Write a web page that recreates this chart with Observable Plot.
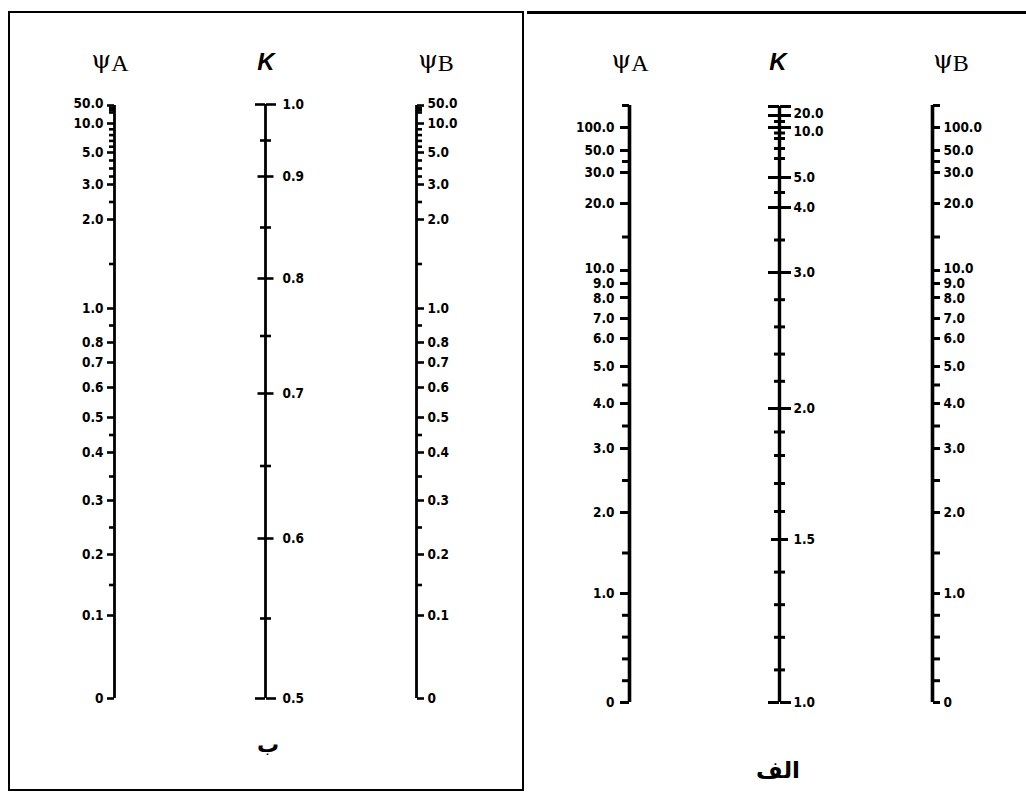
<!DOCTYPE html>
<html><head><meta charset="utf-8">
<script src="https://cdn.jsdelivr.net/npm/d3@7"></script>
<script src="https://cdn.jsdelivr.net/npm/@observablehq/plot@0.6"></script>
<style>
body{margin:0;background:#fff;}
#root{position:relative;width:1026px;height:802px;overflow:hidden;background:#fff;}
.ax{position:absolute;top:0;}
.hdr{position:absolute;line-height:1;white-space:nowrap;color:#000;}
.psi{font-family:"Liberation Serif","DejaVu Serif",serif;font-size:24px;transform:translateX(-50%);}
.psi b{font-weight:normal;font-family:"DejaVu Serif",serif;font-size:25px;}
.psi span{position:relative;top:3px;}
.kk{font-family:"Liberation Sans",sans-serif;font-weight:bold;font-style:italic;font-size:24px;transform:translateX(-50%);}
.cap{font-family:"DejaVu Sans",sans-serif;font-weight:bold;transform:translateX(-50%);direction:rtl;}
.box{position:absolute;box-sizing:border-box;}
</style></head>
<body><div id="root"></div>
<script>
// ---------- data ----------
const INF = 1e9; // stands for the "∞" end of the sway-frame scales

// Braced frame (ب)
const bracedPsiMajor  = [50, 10, 5, 3, 2, 1, 0.8, 0.7, 0.6, 0.5, 0.4, 0.3, 0.2, 0.1, 0];
const bracedPsiLabels = ["50.0","10.0","5.0","3.0","2.0","1.0","0.8","0.7","0.6","0.5","0.4","0.3","0.2","0.1","0"];
const bracedPsiMinor  = [40, 30, 20, 9, 8, 7, 6, 4.5, 4, 3.5, 2.5, 1.5, 0.9, 0.45, 0.35, 0.25, 0.15];
const bracedKMajor    = [0.9, 0.8, 0.7, 0.6];
const bracedKEnds     = [1.0, 0.5];
const bracedKLabelled = [1.0, 0.9, 0.8, 0.7, 0.6, 0.5];
const bracedKLabels   = ["1.0","0.9","0.8","0.7","0.6","0.5"];
const bracedKMinor    = [0.95, 0.85, 0.75, 0.65, 0.55];

// Sway frame (الف)
const swayPsiMajor  = [100, 50, 30, 20, 10, 9, 8, 7, 6, 5, 4, 3, 2, 1, 0];
const swayPsiLabels = ["100.0","50.0","30.0","20.0","10.0","9.0","8.0","7.0","6.0","5.0","4.0","3.0","2.0","1.0","0"];
const swayPsiMinor  = [INF, 40, 15, 4.5, 3.5, 2.5, 1.5, 0.8, 0.6, 0.4, 0.2];
const swayKMajor    = [INF, 20, 10, 5, 4, 3, 2, 1];
const swayKMid      = [1.5];
const swayKLabelled = [20, 10, 5, 4, 3, 2, 1.5, 1];
const swayKLabels   = ["20.0","10.0","5.0","4.0","3.0","2.0","1.5","1.0"];
const swayKMinor    = [15, 9, 8, 7, 6, 4.5, 3.5, 2.8, 2.6, 2.4, 2.2, 1.9, 1.8, 1.7, 1.6, 1.4, 1.3, 1.2, 1.1];

// ---------- nomograph scale calibration (piecewise scales) ----------
const scaleDefs = {
  bracedPsi: {domain: [0, 0.1, 0.2, 0.3, 0.4, 0.5, 0.6, 0.7, 0.8, 1, 2, 3, 5, 10, 20, 50],
              range:  [698, 615, 554, 500, 452, 417, 387, 362, 342, 308, 219, 184, 152, 123, 112, 105]},
  bracedK:   {domain: [0.5, 0.6, 0.7, 0.8, 0.9, 1.0],
              range:  [698, 538, 393, 278, 176, 104]},
  swayPsi:   {domain: [0, 1, 2, 3, 4, 5, 6, 7, 8, 9, 10, 20, 30, 50, 100, INF],
              range:  [702, 593, 512, 448, 403, 366, 338, 318, 297, 283, 270, 203, 172, 150, 127, 105]},
  swayK:     {domain: [1, 1.5, 1.8, 2, 3, 4, 5, 6, 8, 10, 20, INF],
              range:  [702, 539, 455, 408, 272, 207, 177, 158, 138, 127, 115, 106]}
};

const FONT = "'DejaVu Sans Condensed', 'DejaVu Sans', sans-serif";
const root = document.getElementById("root");

function axisChart({x, scale, from, to, lineWidth, tickWidth, groups, major, labels, labelSide, labelGap, labelShift = {}}) {
  const M = 100;
  const lab = new Map(major.map((v, i) => [v, labels[i]]));
  const marks = [
    Plot.ruleX([0], {y1: from, y2: to, strokeWidth: lineWidth})
  ];
  for (const g of groups) {
    for (const side of g.sides) {
      marks.push(Plot.axisY(g.values, {anchor: side, tickSize: g.size, fill: "none",
        strokeWidth: tickWidth, label: null}));
    }
  }
  // group the labels by their small vertical nudge
  const byShift = d3.group(major, v => labelShift[v] ?? 0);
  for (const [dy, vals] of byShift) {
    marks.push(Plot.axisY(vals, {anchor: labelSide, tickSize: 0, tickPadding: labelGap, dy,
      tickFormat: d => lab.get(d), fontSize: 13.5, fontWeight: "bold", fontFamily: FONT,
      fill: "#000", label: null}));
  }
  const svg = Plot.plot({
    width: 2 * M, height: 802,
    marginLeft: M, marginRight: M, marginTop: 0, marginBottom: 0,
    x: {domain: [0, 1], axis: null},
    y: {type: "linear", domain: scaleDefs[scale].domain, range: scaleDefs[scale].range},
    style: {background: "transparent", overflow: "visible", color: "#000"},
    marks
  });
  svg.classList.add("ax");
  svg.style.left = (x - M) + "px";
  svg.style.position = "absolute";
  svg.style.top = "0px";
  root.appendChild(svg);
}

// ---- Left panel: braced frame ----
axisChart({x: 114, scale: "bracedPsi", from: 0, to: 50, lineWidth: 2.8, tickWidth: 2.6,
  groups: [{values: bracedPsiMajor, size: 7, sides: ["left"]}, {values: bracedPsiMinor, size: 5, sides: ["left"]}],
  major: bracedPsiMajor, labels: bracedPsiLabels, labelSide: "left", labelGap: 11,
  labelShift: {50: -2}});
axisChart({x: 265, scale: "bracedK", from: 0.5, to: 1.0, lineWidth: 2.8, tickWidth: 2.6,
  groups: [{values: bracedKEnds, size: 10, sides: ["left", "right"]},
           {values: bracedKMajor, size: 7.5, sides: ["left", "right"]},
           {values: bracedKMinor, size: 5, sides: ["left", "right"]}],
  major: bracedKLabelled, labels: bracedKLabels, labelSide: "right", labelGap: 17});
axisChart({x: 416, scale: "bracedPsi", from: 0, to: 50, lineWidth: 2.8, tickWidth: 2.6,
  groups: [{values: bracedPsiMajor, size: 7, sides: ["right"]}, {values: bracedPsiMinor, size: 5, sides: ["right"]}],
  major: bracedPsiMajor, labels: bracedPsiLabels, labelSide: "right", labelGap: 11,
  labelShift: {50: -2}});

// ---- Right panel: sway frame ----
axisChart({x: 629, scale: "swayPsi", from: 0, to: INF, lineWidth: 3.6, tickWidth: 3,
  groups: [{values: swayPsiMajor, size: 9, sides: ["left"]}, {values: swayPsiMinor, size: 7, sides: ["left"]}],
  major: swayPsiMajor, labels: swayPsiLabels, labelSide: "left", labelGap: 15,
  labelShift: {10: -2, 8: 1.5}});
axisChart({x: 779, scale: "swayK", from: 1, to: INF, lineWidth: 3.4, tickWidth: 3,
  groups: [{values: swayKMajor, size: 11, sides: ["left", "right"]},
           {values: swayKMid, size: 8, sides: ["left", "right"]},
           {values: swayKMinor, size: 5, sides: ["left", "right"]}],
  major: swayKLabelled, labels: swayKLabels, labelSide: "right", labelGap: 14,
  labelShift: {20: -2, 10: 4}});
axisChart({x: 932, scale: "swayPsi", from: 0, to: INF, lineWidth: 3.6, tickWidth: 3,
  groups: [{values: swayPsiMajor, size: 7, sides: ["right"]}, {values: swayPsiMinor, size: 7, sides: ["right"]}],
  major: swayPsiMajor, labels: swayPsiLabels, labelSide: "right", labelGap: 11,
  labelShift: {10: -2, 8: 1.5}});

// ---- frames, headers, captions ----
function el(cls, html, css) {
  const d = document.createElement("div");
  d.className = cls; d.innerHTML = html;
  Object.assign(d.style, css);
  root.appendChild(d);
}
el("box", "", {left: "8px", top: "11px", width: "516px", height: "780px", border: "2px solid #000"});
el("box", "", {left: "527px", top: "11px", width: "499px", height: "3px", background: "#000"});

el("hdr psi", "<b>ψ</b><span>A</span>", {left: "110px", top: "47px"});
el("hdr kk", "K", {left: "266px", top: "50px"});
el("hdr psi", "<b>ψ</b><span>B</span>", {left: "436px", top: "47px"});
el("hdr psi", "<b>ψ</b><span>A</span>", {left: "630px", top: "47px"});
el("hdr kk", "K", {left: "778px", top: "50px"});
el("hdr psi", "<b>ψ</b><span>B</span>", {left: "951px", top: "47px"});

el("hdr cap", "ب", {left: "268px", top: "734px", fontSize: "22px"});
el("hdr cap", "الف", {left: "778px", top: "759px", fontSize: "23px"});
</script>
</body></html>
